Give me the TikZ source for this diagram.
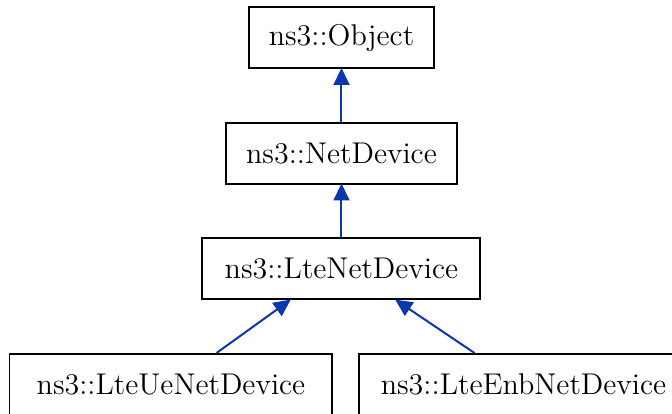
\documentclass[tikz,border=0pt]{standalone}
\usetikzlibrary{positioning, arrows.meta}
\definecolor{edgeblue}{RGB}{8,56,176}
\tikzstyle{cls} = [rectangle, draw=black, line width=0.8pt, font=\large, inner xsep=8pt, minimum height=24.4pt, text centered]
\tikzstyle{arrow} = [draw=edgeblue, line width=0.8pt, shorten >=-0.6pt, -{Triangle[length=6.8pt, width=6.4pt]}]

\begin{document}
\begin{tikzpicture}[node distance=21pt]

    \useasboundingbox (0,0) rectangle (268.8pt,-165.6pt);

    % Nodes
    \node (object) [cls, minimum width=74pt] at (136.6pt,-15.2pt) {ns3::Object};
    \node (netdev) [cls, minimum width=92.4pt, below=of object] {ns3::NetDevice};
    \node (ltedev) [cls, minimum width=111.2pt, below=of netdev] {ns3::LteNetDevice};
    \node (uedev) [cls, minimum width=129.2pt, below=of ltedev, xshift=-68.2pt] {ns3::LteUeNetDevice};
    \node (enbdev) [cls, minimum width=131.2pt, below=of ltedev, xshift=72.8pt] {ns3::LteEnbNetDevice};

    % Arrows
    \draw [arrow] (netdev) -- (object);
    \draw [arrow] (ltedev) -- (netdev);
    \draw [arrow] ([xshift=18.2pt]uedev.north) -- ([xshift=-20.8pt]ltedev.south);
    \draw [arrow] ([xshift=-19.6pt]enbdev.north) -- ([xshift=22pt]ltedev.south);

\end{tikzpicture}
\end{document}
